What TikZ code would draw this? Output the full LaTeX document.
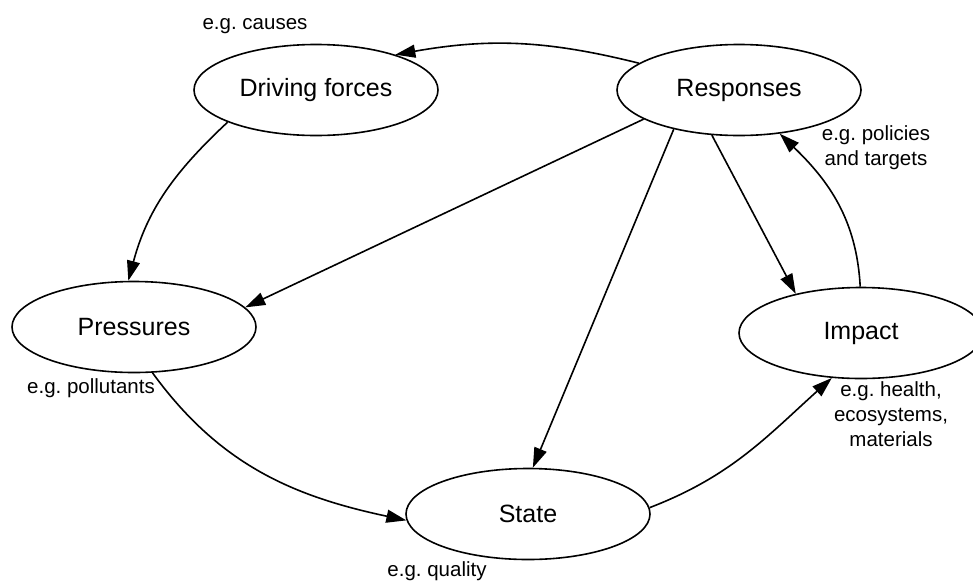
\documentclass[tikz,border=0pt]{standalone}
\usepackage{fontspec}
\setmainfont{Liberation Sans}
\usetikzlibrary{arrows.meta,shapes.geometric}
\frenchspacing

\tikzset{
  stage/.style={ellipse, draw, line width=1.6pt, minimum width=244pt,
    minimum height=91pt, inner sep=0pt,
    font=\fontsize{25}{30}\selectfont},
  note/.style={inner sep=0pt, align=center,
    font=\fontsize{20.5}{25}\selectfont},
  link/.style={line width=1.6pt,
    -{Triangle[length=20pt,width=13pt]}},
}

\begin{document}
\begin{tikzpicture}[x=1pt,y=-1pt]
  \useasboundingbox (0,0) rectangle (973,581);
  \fill[white] (0,0) rectangle (973,581);

  % the five stages of the cycle
  \node[stage] (drv)   at (316,90)  {Driving forces};
  \node[stage] (resp)  at (739,90)  {Responses};
  \node[stage] (press) at (134,327) {Pressures};
  \node[stage] (imp)   at (861,333) {Impact};
  \node[stage] (state) at (528,514) {State};

  % examples for each stage
  \node[note] (n1) at (255,26)  {e.g. causes};
  \node[note] (n2) at (876,148) {e.g. policies\\and targets};
  \node[note] (n3) at (91,388)  {e.g. pollutants};
  \node[note] (n4) at (891,414) {e.g. health,\\ecosystems,\\materials};
  \node[note] (n5) at (437,571) {e.g. quality};

  % causal chain around the cycle
  \draw[link] (drv.200)   to[out=223, in=75]  (press.97);
  \draw[link] (press.292) to[out=-54, in=168] (state.183);
  \draw[link] (state.3)   to[out=21,  in=222] (imp.237);
  \draw[link] (imp.91)    to[out=93,  in=-44] (resp.313);
  \draw[link] (resp.165)  to[out=166, in=10]  (drv.24);

  % responses acting on the other stages
  \draw[link] (resp.197) -- (press.10);
  \draw[link] (resp.211) -- (state.84);
  \draw[link] (resp.239) -- (imp.149);
\end{tikzpicture}
\end{document}
